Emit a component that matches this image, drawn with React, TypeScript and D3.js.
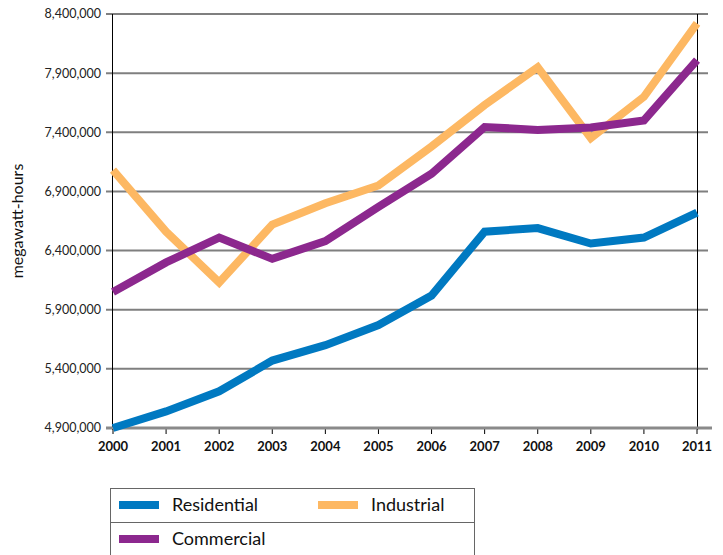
import * as d3 from 'd3'

const years = ['2000', '2001', '2002', '2003', '2004', '2005', '2006', '2007', '2008', '2009', '2010', '2011']
const residential = [4900000, 5040000, 5210000, 5470000, 5600000, 5770000, 6020000, 6560000, 6590000, 6460000, 6510000, 6720000]
const commercial = [6050000, 6300000, 6510000, 6330000, 6480000, 6770000, 7050000, 7445000, 7420000, 7440000, 7500000, 8010000]
const industrial = [7080000, 6560000, 6130000, 6620000, 6800000, 6950000, 7280000, 7630000, 7950000, 7350000, 7700000, 8320000]
const yTicks = [4900000, 5400000, 5900000, 6400000, 6900000, 7400000, 7900000, 8400000]

const series = [
  { name: 'Residential', values: residential, color: '#0079c1' },
  { name: 'Industrial', values: industrial, color: '#fdb863' },
  { name: 'Commercial', values: commercial, color: '#8c288e' },
]

export default function App() {
  const font = 'Lato, "Open Sans", sans-serif'
  const x = d3.scalePoint<string>().domain(years).range([113, 697])
  const y = d3.scaleLinear().domain([4900000, 8400000]).range([428, 14])
  const fmt = d3.format(',')
  const line = d3
    .line<number>()
    .x((_, i) => x(years[i])!)
    .y((d) => y(d))

  return (
    <svg width={723} height={555} style={{ position: 'absolute', left: 0, top: 0 }}>
      <rect width={723} height={555} fill="#fff" />
      {yTicks.slice(1).map((t) => (
        <line key={t} x1={106} x2={708} y1={y(t)} y2={y(t)} stroke="#7f7f7f" strokeWidth={2} />
      ))}
      {yTicks.map((t) => (
        <text key={'l' + t} x={101} y={y(t)} dy="0.35em" textAnchor="end" fontFamily={font} fontSize={12.5} fill="#222">
          {fmt(t)}
        </text>
      ))}
      <line x1={112.5} x2={112.5} y1={14} y2={430} stroke="#000" strokeWidth={1} />
      <line x1={697.5} x2={697.5} y1={14} y2={430} stroke="#000" strokeWidth={1} />
      {years.map((yr) => (
        <line key={'t' + yr} x1={x(yr)} x2={x(yr)} y1={428} y2={434} stroke="#000" strokeWidth={1} />
      ))}
      <line x1={106} x2={712} y1={428} y2={428} stroke="#8a8a8a" strokeWidth={3} />
      {years.map((yr) => (
        <text key={'x' + yr} x={x(yr)} y={451} textAnchor="middle" fontFamily={font} fontWeight="bold" fontSize={13} fill="#111">
          {yr}
        </text>
      ))}
      <text
        transform="translate(23,221) rotate(-90)"
        textAnchor="middle"
        fontFamily={font}
        fontSize={16}
        fill="#111"
      >
        megawatt-hours
      </text>
      <defs>
        <clipPath id="plotclip">
          <rect x={100} y={0} width={610} height={432} />
        </clipPath>
      </defs>
      <g clipPath="url(#plotclip)">
        {series.map((s) => (
          <path key={s.name} d={line(s.values)!} fill="none" stroke={s.color} strokeWidth={8} strokeLinejoin="miter" />
        ))}
      </g>
      <rect x={110.5} y={488.5} width={364} height={80} fill="none" stroke="#666" strokeWidth={1} />
      <line x1={110.5} x2={474.5} y1={522.5} y2={522.5} stroke="#666" strokeWidth={1} />
      {[
        { s: series[0], lx: 119, ly: 505 },
        { s: series[1], lx: 318, ly: 505 },
        { s: series[2], lx: 119, ly: 539 },
      ].map(({ s, lx, ly }) => (
        <g key={'lg' + s.name}>
          <rect x={lx} y={ly - 4} width={40} height={8} fill={s.color} />
          <text x={lx + 53} y={ly} dy="0.35em" fontFamily={font} fontSize={18} fill="#111">
            {s.name}
          </text>
        </g>
      ))}
    </svg>
  )
}
